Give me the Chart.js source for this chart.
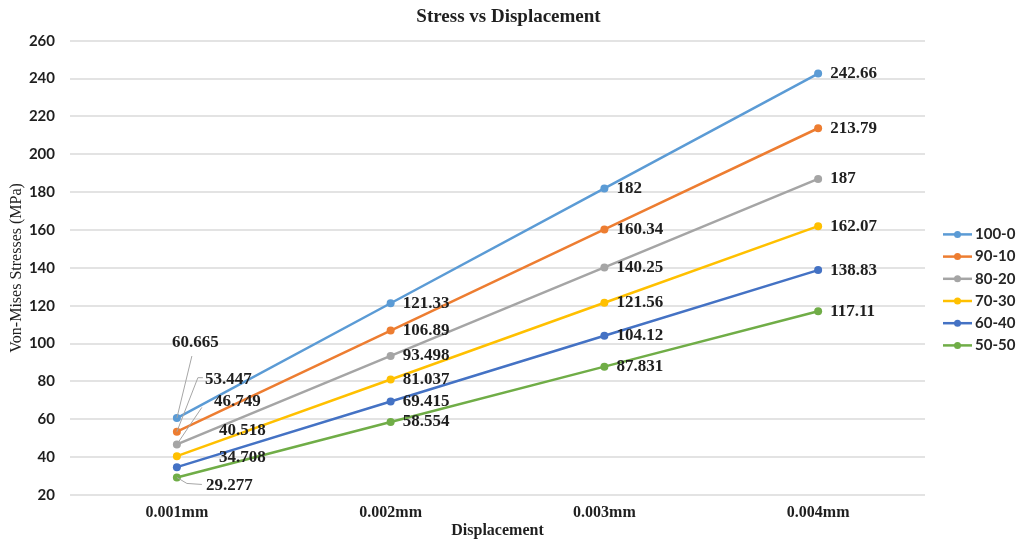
<!DOCTYPE html>
<html>
<head>
<meta charset="utf-8">
<title>Stress vs Displacement</title>
<script src="https://cdn.jsdelivr.net/npm/chart.js@4.4.1/dist/chart.umd.min.js"></script>
<style>
  html, body { margin: 0; padding: 0; background: #ffffff; }
  #wrap { width: 1017px; height: 540px; position: relative; }
</style>
</head>
<body>
<div id="wrap"><canvas id="chart"></canvas></div>
<script>
// Displacement steps on the x axis
const categories = ['0.001mm', '0.002mm', '0.003mm', '0.004mm'];

// Von-Mises stress (MPa) for each mix ratio
const seriesNames = ['100-0', '90-10', '80-20', '70-30', '60-40', '50-50'];
const stress100_0 = [60.665, 121.33, 182, 242.66];
const stress90_10 = [53.447, 106.89, 160.34, 213.79];
const stress80_20 = [46.749, 93.498, 140.25, 187];
const stress70_30 = [40.518, 81.037, 121.56, 162.07];
const stress60_40 = [34.708, 69.415, 104.12, 138.83];
const stress50_50 = [29.277, 58.554, 87.831, 117.11];

// Y axis range and tick step
const yMin = 20;
const yMax = 260;
const yStep = 20;

const seriesValues = [stress100_0, stress90_10, stress80_20, stress70_30, stress60_40, stress50_50];
const seriesColors = ['#5B9BD5', '#ED7D31', '#A5A5A5', '#FFC000', '#4472C4', '#70AD47'];

const serif = '"Liberation Serif", "Times New Roman", serif';
const sans = 'Lato, "Open Sans", sans-serif';

// Value labels: beside each point, except the crowded first column,
// where labels are pulled out with thin leader lines.
const valueLabels = {
  id: 'valueLabels',
  afterDatasetsDraw(chart, args, opts) {
    const ctx = chart.ctx;
    ctx.save();
    ctx.font = opts.font;
    ctx.fillStyle = opts.color;
    ctx.textAlign = 'left';
    ctx.textBaseline = 'middle';
    chart.data.datasets.forEach((ds, di) => {
      const meta = chart.getDatasetMeta(di);
      meta.data.forEach((pt, i) => {
        const text = String(ds.data[i]);
        let dx = opts.dx, dy = 0;
        const call = i === 0 ? opts.callouts[di] : null;
        if (call) {
          dx = call.dx; dy = call.dy;
          if (call.leader) {
            ctx.beginPath();
            ctx.strokeStyle = opts.leaderColor;
            ctx.lineWidth = 1;
            ctx.moveTo(pt.x, pt.y);
            call.leader.forEach(([lx, ly]) => ctx.lineTo(pt.x + lx, pt.y + ly));
            ctx.stroke();
          }
        }
        ctx.fillText(text, pt.x + dx, pt.y + dy);
      });
    });
    ctx.restore();
  }
};

// Series key in its own box on the right of the plot
const sideLegend = {
  id: 'sideLegend',
  start(chart, args, opts) {
    const box = {
      position: 'right', weight: 0, fullSize: false, options: {},
      left: 0, top: 0, right: 0, bottom: 0, width: 0, height: 0,
      isHorizontal() { return false; },
      update(maxWidth, maxHeight) { this.width = opts.width; this.height = maxHeight; },
      draw() {
        const ctx = chart.ctx;
        const sets = chart.data.datasets;
        const n = sets.length;
        const midY = (this.top + this.bottom) / 2 + opts.shiftY;
        const y0 = midY - (n - 1) * opts.rowGap / 2;
        ctx.save();
        ctx.font = opts.font;
        ctx.textAlign = 'left';
        ctx.textBaseline = 'middle';
        sets.forEach((ds, i) => {
          const y = y0 + i * opts.rowGap;
          const x0 = this.left + opts.symbolLeft;
          ctx.strokeStyle = ds.borderColor;
          ctx.lineWidth = 2.5;
          ctx.beginPath();
          ctx.moveTo(x0, y);
          ctx.lineTo(x0 + opts.symbolWidth, y);
          ctx.stroke();
          ctx.fillStyle = ds.borderColor;
          ctx.beginPath();
          ctx.arc(x0 + opts.symbolWidth / 2, y, 3.5, 0, Math.PI * 2);
          ctx.fill();
          ctx.fillStyle = opts.color;
          ctx.fillText(ds.label, x0 + opts.symbolWidth + opts.textGap, y);
        });
        ctx.restore();
      }
    };
    Chart.layouts.addBox(chart, box);
  }
};

const datasets = seriesNames.map((name, i) => ({
  label: name,
  data: seriesValues[i],
  borderColor: seriesColors[i],
  backgroundColor: seriesColors[i],
  borderWidth: 2.5,
  pointRadius: 4,
  pointHoverRadius: 4,
  pointBorderWidth: 0,
  tension: 0
}));

new Chart(document.getElementById('chart'), {
  type: 'line',
  data: { labels: categories, datasets },
  plugins: [valueLabels, sideLegend],
  options: {
    responsive: true,
    maintainAspectRatio: false,
    animation: false,
    devicePixelRatio: 1,
    layout: { padding: 0 },
    plugins: {
      legend: { display: false },
      tooltip: { enabled: false },
      title: {
        display: true,
        text: 'Stress vs Displacement',
        color: '#1f1f1f',
        font: { family: serif, size: 19, weight: 'bold' },
        padding: { top: 6, bottom: 12 }
      },
      valueLabels: {
        font: 'bold 17px ' + serif,
        color: '#1f1f1f',
        leaderColor: '#a6a6a6',
        dx: 12,
        callouts: [
          { dx: -5, dy: -75, leader: [[15, -62]] },
          { dx: 28, dy: -52, leader: [[21, -54], [26, -54]] },
          { dx: 37, dy: -43, leader: [[25, -37]] },
          { dx: 42, dy: -26 },
          { dx: 42, dy: -10 },
          { dx: 29, dy: 8, leader: [[10, 6], [25, 7]] }
        ]
      },
      sideLegend: {
        width: 92,
        shiftY: 22,
        rowGap: 22.2,
        symbolLeft: 18,
        symbolWidth: 29,
        textGap: 3,
        font: 'bold 15px ' + sans,
        color: '#262626'
      }
    },
    scales: {
      x: {
        offset: true,
        grid: { display: false, drawTicks: false },
        border: { display: false },
        ticks: {
          color: '#1f1f1f',
          padding: 8,
          font: { family: serif, size: 16, weight: 'bold' }
        },
        title: {
          display: true,
          text: 'Displacement',
          color: '#1f1f1f',
          font: { family: serif, size: 16, weight: 'bold' },
          padding: { top: 0, bottom: 0 }
        },
        afterFit(scale) { scale.height = 45; }
      },
      y: {
        min: yMin,
        max: yMax,
        ticks: {
          stepSize: yStep,
          color: '#1f1f1f',
          padding: 15,
          font: { family: sans, size: 15, weight: 'bold' }
        },
        grid: { color: '#e3e3e3', lineWidth: 2, drawTicks: false },
        border: { display: false },
        title: {
          display: true,
          text: 'Von-Mises Stresses (MPa)',
          color: '#1f1f1f',
          font: { family: serif, size: 16 },
          padding: { top: 7, bottom: 0 }
        },
        afterFit(scale) { scale.width = 70; }
      }
    }
  }
});
</script>
</body>
</html>
